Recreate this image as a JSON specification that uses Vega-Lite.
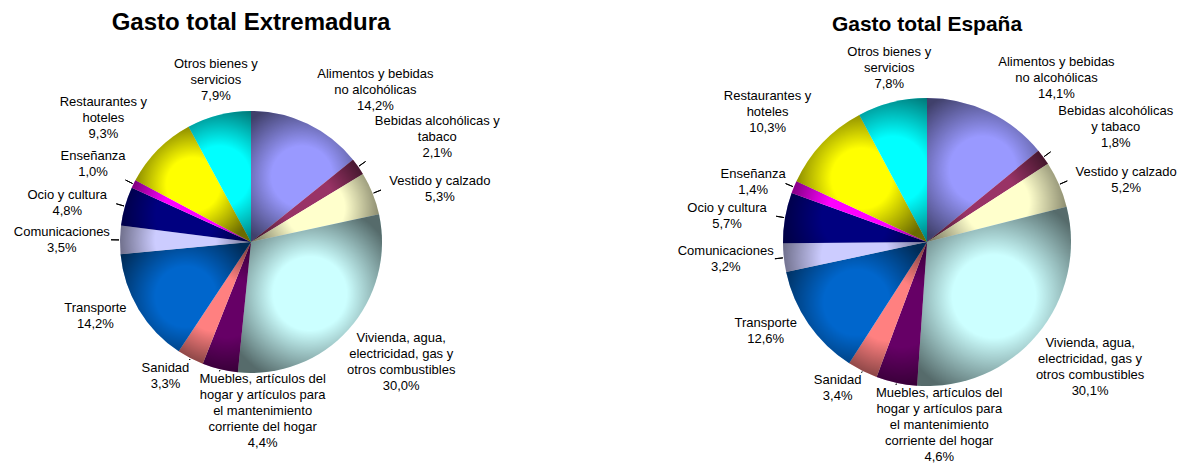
{
  "$schema": "https://vega.github.io/schema/vega-lite/v6.json",
  "background": "white",
  "padding": {"left": 0, "top": 11, "right": 0, "bottom": 0},
  "bounds": "flush",
  "spacing": 174,
  "data": {"values": [
    {"region": "Extremadura", "n": 1, "cat": "Alimentos y bebidas no alcohólicas", "value": 14.2, "label": ["Alimentos y bebidas", "no alcohólicas", "14,2%"]},
    {"region": "Extremadura", "n": 2, "cat": "Bebidas alcohólicas y tabaco", "value": 2.1, "label": ["Bebidas alcohólicas y", "tabaco", "2,1%"]},
    {"region": "Extremadura", "n": 3, "cat": "Vestido y calzado", "value": 5.3, "label": ["Vestido y calzado", "5,3%"]},
    {"region": "Extremadura", "n": 4, "cat": "Vivienda, agua, electricidad, gas y otros combustibles", "value": 30.0, "label": ["Vivienda, agua,", "electricidad, gas y", "otros combustibles", "30,0%"]},
    {"region": "Extremadura", "n": 5, "cat": "Muebles, artículos del hogar y artículos para el mantenimiento corriente del hogar", "value": 4.4, "label": ["Muebles, artículos del", "hogar y artículos para", "el mantenimiento", "corriente del hogar", "4,4%"]},
    {"region": "Extremadura", "n": 6, "cat": "Sanidad", "value": 3.3, "label": ["Sanidad", "3,3%"]},
    {"region": "Extremadura", "n": 7, "cat": "Transporte", "value": 14.2, "label": ["Transporte", "14,2%"]},
    {"region": "Extremadura", "n": 8, "cat": "Comunicaciones", "value": 3.5, "label": ["Comunicaciones", "3,5%"]},
    {"region": "Extremadura", "n": 9, "cat": "Ocio y cultura", "value": 4.8, "label": ["Ocio y cultura", "4,8%"]},
    {"region": "Extremadura", "n": 10, "cat": "Enseñanza", "value": 1.0, "label": ["Enseñanza", "1,0%"]},
    {"region": "Extremadura", "n": 11, "cat": "Restaurantes y hoteles", "value": 9.3, "label": ["Restaurantes y", "hoteles", "9,3%"]},
    {"region": "Extremadura", "n": 12, "cat": "Otros bienes y servicios", "value": 7.9, "label": ["Otros bienes y", "servicios", "7,9%"]},
    {"region": "España", "n": 1, "cat": "Alimentos y bebidas no alcohólicas", "value": 14.1, "label": ["Alimentos y bebidas", "no alcohólicas", "14,1%"]},
    {"region": "España", "n": 2, "cat": "Bebidas alcohólicas y tabaco", "value": 1.8, "label": ["Bebidas alcohólicas", "y tabaco", "1,8%"]},
    {"region": "España", "n": 3, "cat": "Vestido y calzado", "value": 5.2, "label": ["Vestido y calzado", "5,2%"]},
    {"region": "España", "n": 4, "cat": "Vivienda, agua, electricidad, gas y otros combustibles", "value": 30.1, "label": ["Vivienda, agua,", "electricidad, gas y", "otros combustibles", "30,1%"]},
    {"region": "España", "n": 5, "cat": "Muebles, artículos del hogar y artículos para el mantenimiento corriente del hogar", "value": 4.6, "label": ["Muebles, artículos del", "hogar y artículos para", "el mantenimiento", "corriente del hogar", "4,6%"]},
    {"region": "España", "n": 6, "cat": "Sanidad", "value": 3.4, "label": ["Sanidad", "3,4%"]},
    {"region": "España", "n": 7, "cat": "Transporte", "value": 12.6, "label": ["Transporte", "12,6%"]},
    {"region": "España", "n": 8, "cat": "Comunicaciones", "value": 3.2, "label": ["Comunicaciones", "3,2%"]},
    {"region": "España", "n": 9, "cat": "Ocio y cultura", "value": 5.7, "label": ["Ocio y cultura", "5,7%"]},
    {"region": "España", "n": 10, "cat": "Enseñanza", "value": 1.4, "label": ["Enseñanza", "1,4%"]},
    {"region": "España", "n": 11, "cat": "Restaurantes y hoteles", "value": 10.3, "label": ["Restaurantes y", "hoteles", "10,3%"]},
    {"region": "España", "n": 12, "cat": "Otros bienes y servicios", "value": 7.8, "label": ["Otros bienes y", "servicios", "7,8%"]}
  ]},
  "facet": {
    "column": {
      "field": "region", "type": "nominal", "sort": ["Extremadura", "España"],
      "header": {"title": null, "labelExpr": "'Gasto total ' + datum.value", "labelFont": "Liberation Sans", "labelFontSize": {"expr": "parent.region === 'España' ? 21 : 24"}, "labelFontWeight": "bold", "labelColor": "#000000", "labelPadding": 4}
    }
  },
  "spec": {
    "width": 502,
    "height": 406,
    "encoding": {
      "theta": {"field": "value", "type": "quantitative", "stack": "normalize"},
      "order": {"field": "n", "type": "quantitative"}
    },
    "layer": [
      {
        "mark": {"type": "arc", "strokeWidth": 0, "outerRadius": {"expr": "datum.region === 'España' ? 144 : 131"}},
        "encoding": {
          "color": {
            "field": "cat", "type": "nominal", "legend": null,
            "scale": {
              "domain": ["Alimentos y bebidas no alcohólicas", "Bebidas alcohólicas y tabaco", "Vestido y calzado", "Vivienda, agua, electricidad, gas y otros combustibles", "Muebles, artículos del hogar y artículos para el mantenimiento corriente del hogar", "Sanidad", "Transporte", "Comunicaciones", "Ocio y cultura", "Enseñanza", "Restaurantes y hoteles", "Otros bienes y servicios"],
              "range": ["#9999FF", "#993366", "#FFFFCC", "#CCFFFF", "#660066", "#FF8080", "#0066CC", "#CCCCFF", "#000080", "#FF00FF", "#FFFF00", "#00FFFF"]
            }
          }
        }
      },
      {
        "mark": {
          "type": "arc", "strokeWidth": 0, "outerRadius": {"expr": "datum.region === 'España' ? 144 : 131"},
          "fill": {"gradient": "radial", "x1": 0.5, "y1": 0.5, "r1": 0, "x2": 0.5, "y2": 0.5, "r2": 0.58,
            "stops": [
              {"offset": 0, "color": "rgba(0,0,0,0)"},
              {"offset": 0.4, "color": "rgba(0,0,0,0)"},
              {"offset": 1, "color": "rgba(0,0,0,0.58)"}
            ]}
        }
      },
      {
        "mark": {
          "type": "arc", "fill": "#000000", "fillOpacity": 0, "stroke": "#000000", "strokeWidth": 1, "padAngle": 3,
          "innerRadius": {"expr": "(datum.region === 'España' ? 144 : 131) + 1"},
          "outerRadius": {"expr": "(datum.region === 'España' ? 144 : 131) + (cos(PI*(datum.value_start+datum.value_end)) < -0.6 ? 2 : 9)"},
          "strokeOpacity": {"expr": "datum.value < 6 ? 1 : 0"}
        }
      },
      {
        "mark": {
          "type": "text", "font": "Liberation Sans", "fontSize": 13, "lineHeight": 16, "color": "#000000", "align": "center",
          "radius": {"expr": "(datum.region === 'España' ? 144 : 131) + (cos(PI*(datum.value_start+datum.value_end)) < -0.6 ? 4 : 12)"},
          "baseline": {"expr": "cos(PI*(datum.value_start+datum.value_end)) > 0.4 ? 'bottom' : (cos(PI*(datum.value_start+datum.value_end)) < -0.6 ? 'top' : 'middle')"},
          "dy": {"expr": "cos(PI*(datum.value_start+datum.value_end)) > 0.4 ? -(length(datum.label)-1)*16 : (cos(PI*(datum.value_start+datum.value_end)) < -0.6 ? 0 : -(length(datum.label)-1)*8)"},
          "dx": {"expr": "(sin(PI*(datum.value_start+datum.value_end)) > 0.3 ? 1 : ((datum.value_start+datum.value_end > 1 && datum.value_start+datum.value_end < 1.12) ? 0.6 : (sin(PI*(datum.value_start+datum.value_end)) < -0.3 ? -1 : 0))) * length(datum.label[0]) * 3.3"}
        },
        "encoding": {"text": {"field": "label"}}
      }
    ]
  },
  "config": {"view": {"stroke": null}}
}
